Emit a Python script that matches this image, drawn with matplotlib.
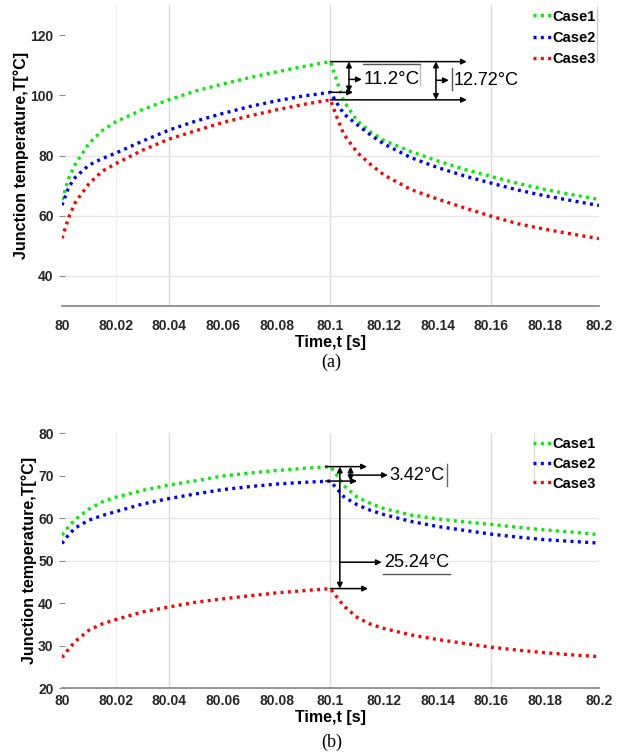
import numpy as np
import matplotlib.pyplot as plt

plt.rcParams['font.family'] = ['Liberation Sans', 'DejaVu Sans']

# time axis (s), shared by both panels
t = [80, 80.0025, 80.005, 80.01, 80.015, 80.02, 80.03, 80.04, 80.05, 80.06,
     80.07, 80.08, 80.09, 80.1, 80.1025, 80.105, 80.11, 80.115, 80.12, 80.13,
     80.14, 80.15, 80.16, 80.17, 80.18, 80.19, 80.2]

# panel (a) junction temperature, deg C
a_case1 = [65.2, 72.5, 77.2, 84.0, 88.3, 91.2, 95.3, 98.6, 101.5, 103.8,
           105.9, 107.8, 109.6, 111.2, 104.5, 98.0, 91.5, 87.8, 85.0, 81.3,
           78.2, 75.4, 73.0, 70.7, 68.7, 67.0, 65.4]
a_case2 = [63.5, 69.5, 72.8, 76.8, 79.0, 80.8, 84.8, 88.5, 91.5, 94.0,
           96.3, 98.2, 99.8, 101.0, 97.3, 93.8, 90.2, 86.8, 83.8, 79.3,
           76.0, 73.2, 70.8, 68.5, 66.6, 65.0, 63.4]
a_case3 = [52.5, 59.5, 64.5, 70.6, 74.8, 77.3, 81.8, 85.5, 88.3, 91.0,
           93.2, 95.2, 97.0, 98.5, 92.5, 87.0, 81.0, 77.0, 73.5, 68.7,
           65.5, 62.6, 59.8, 57.3, 55.5, 53.9, 52.4]

# panel (b)
b_case1 = [56.0, 58.0, 59.7, 62.1, 63.8, 64.9, 66.5, 67.8, 68.8, 69.9,
           70.6, 71.2, 71.7, 72.1, 70.0, 67.6, 64.9, 63.4, 62.2, 60.7,
           59.8, 59.1, 58.5, 57.8, 57.2, 56.7, 56.1]
b_case2 = [54.0, 56.1, 57.7, 59.5, 60.6, 61.5, 63.3, 64.6, 65.7, 66.7,
           67.4, 68.0, 68.4, 68.7, 66.8, 65.0, 63.1, 61.8, 60.8, 59.2,
           58.0, 57.1, 56.2, 55.5, 54.9, 54.5, 54.1]
b_case3 = [27.2, 29.2, 31.0, 33.6, 35.1, 36.1, 37.9, 39.1, 40.2, 41.0,
           41.7, 42.4, 42.9, 43.4, 41.3, 39.3, 36.6, 35.0, 34.0, 32.5,
           31.4, 30.5, 29.6, 28.9, 28.3, 27.8, 27.4]

labels = ['Case1', 'Case2', 'Case3']
colors = ['#00ee00', '#0000ff', '#ff0000']
xticks = [80, 80.02, 80.04, 80.06, 80.08, 80.1, 80.12, 80.14, 80.16, 80.18, 80.2]
xticklabels = ['80', '80.02', '80.04', '80.06', '80.08', '80.1', '80.12',
               '80.14', '80.16', '80.18', '80.2']

fig = plt.figure(figsize=(6.25, 7.53), dpi=100)
ax_a = fig.add_axes([0.0992, 0.5936, 0.859, 0.3997])
ax_b = fig.add_axes([0.0992, 0.0863, 0.859, 0.3386])


def style(ax, ylim, yticks, hgrid, xpad):
    ax.set_xlim(80, 80.2)
    ax.set_ylim(*ylim)
    ax.set_xticks(xticks)
    ax.set_xticklabels(xticklabels)
    ax.set_yticks(yticks)
    for s in ['left', 'top', 'right']:
        ax.spines[s].set_visible(False)
    ax.spines['bottom'].set_color('#8c8c8c')
    ax.spines['bottom'].set_linewidth(1.3)
    ax.tick_params(axis='x', length=0, pad=xpad, labelsize=10, labelcolor='#262626')
    ax.tick_params(axis='y', length=4, direction='inout', color='#8c8c8c',
                   pad=4, labelsize=10, labelcolor='#262626')
    for lab in ax.get_xticklabels() + ax.get_yticklabels():
        lab.set_fontweight('bold')
    # visible grid lines in the original
    ax.axvline(80.02, color='#efefef', lw=0.9, zorder=0)
    for xv in [80.04, 80.1, 80.16]:
        ax.axvline(xv, color='#dcdcdc', lw=1.0, zorder=0)
    for yv in hgrid:
        ax.axhline(yv, color='#e6e6e6', lw=1.0, zorder=0)
    ax.set_xticks([80.04, 80.1, 80.16], minor=True)
    ax.tick_params(axis='x', which='minor', direction='in', length=5,
                   color='#707070', width=1.0, top=True)
    ax.set_yticks(hgrid, minor=True)
    ax.tick_params(axis='y', which='minor', direction='in', length=4,
                   color='#9a9a9a', left=False, right=True)
    ax.set_xlabel('Time,t [s]', fontsize=11.5, fontweight='bold', labelpad=2)
    ax.set_ylabel('Junction temperature,T[°C]', fontsize=11.5, fontweight='bold',
                  labelpad=1)


def arrow(ax, x0, y0, x1, y1, style='-|>'):
    ax.annotate('', xy=(x1, y1), xytext=(x0, y0),
                arrowprops=dict(arrowstyle=style, color='black', lw=1.1,
                                mutation_scale=8, shrinkA=0, shrinkB=0))


for ax, series in [(ax_a, [a_case1, a_case2, a_case3]),
                   (ax_b, [b_case1, b_case2, b_case3])]:
    for y, c, lab in zip(series, colors, labels):
        ax.plot(t, y, color=c, lw=2.4, linestyle=(0, (0.9, 1.3)),
                dash_capstyle='butt', label=lab)

style(ax_a, (30, 130), [40, 60, 80, 100, 120], [40, 60, 80], 9)
style(ax_b, (20, 80), [20, 30, 40, 50, 60, 70, 80], [50, 60], 4)

# ---- annotations panel (a)
p1, p2, p3 = max(a_case1), max(a_case2), max(a_case3)
arrow(ax_a, 80.1, p1, 80.1508, p1)
arrow(ax_a, 80.1, p3, 80.1508, p3)
arrow(ax_a, 80.1, p2, 80.1084, p2)
arrow(ax_a, 80.1069, p1, 80.1069, p2, '<|-|>')
arrow(ax_a, 80.1069, 105.3, 80.1117, 105.3)
ax_a.text(80.1123, 105.3, '11.2°C', fontsize=13.5, va='center', ha='left')
ax_a.plot([80.112, 80.1333], [110.3, 110.3], color='#555555', lw=1.0)
ax_a.plot([80.1333, 80.1333], [110.0, 103.3], color='#bbbbbb', lw=1.0)
arrow(ax_a, 80.1393, p1, 80.1393, p3, '<|-|>')
arrow(ax_a, 80.1393, 105.0, 80.1441, 105.0)
ax_a.plot([80.1453, 80.1453], [109.0, 101.7], color='#555555', lw=1.0)
ax_a.text(80.146, 105.0, '12.72°C', fontsize=13, va='center', ha='left')

# ---- annotations panel (b)
q1, q2, q3 = max(b_case1), max(b_case2), max(b_case3)
arrow(ax_b, 80.0982, q1, 80.1136, q1)
arrow(ax_b, 80.0982, q2, 80.1099, q2)
arrow(ax_b, 80.1, q3, 80.114, q3)
arrow(ax_b, 80.1075, q1, 80.1075, q2, '<|-|>')
arrow(ax_b, 80.1075, 70.1, 80.1214, 70.1)
ax_b.text(80.1218, 70.1, '3.42°C', fontsize=13, va='center', ha='left')
ax_b.plot([80.1433, 80.1433], [72.7, 67.6], color='#666666', lw=1.0)
arrow(ax_b, 80.1035, q1, 80.1035, q3, '<|-|>')
arrow(ax_b, 80.1035, 49.6, 80.1191, 49.6)
ax_b.text(80.12, 49.6, '25.24°C', fontsize=13, va='center', ha='left')
ax_b.plot([80.1196, 80.1445], [46.9, 46.9], color='#555555', lw=1.0)

# legends
leg_opts = dict(loc='upper right', frameon=False, handlelength=1.2,
                handletextpad=0.15, borderaxespad=0.0, borderpad=0.0,
                prop={'weight': 'bold', 'size': 10.5})
ax_a.legend(bbox_to_anchor=(0.995, 0.985), labelspacing=0.5, **leg_opts)
ax_b.legend(bbox_to_anchor=(0.995, 0.985), labelspacing=0.4, **leg_opts)
# thin frame edges left over from the original legend boxes
ax_a.plot([0.997, 0.997], [0.81, 0.995], transform=ax_a.transAxes,
          color='#c8c8c8', lw=0.9)
ax_b.plot([0.88, 0.88], [0.8, 1.0], transform=ax_b.transAxes,
          color='#dddddd', lw=0.9)

fig.text(0.53, 1 - 362 / 753, '(a)', family='Liberation Serif', fontsize=13,
         ha='center', va='center')
fig.text(0.53, 1 - 742 / 753, '(b)', family='Liberation Serif', fontsize=13,
         ha='center', va='center')

fig.savefig('out.png', dpi=100)
